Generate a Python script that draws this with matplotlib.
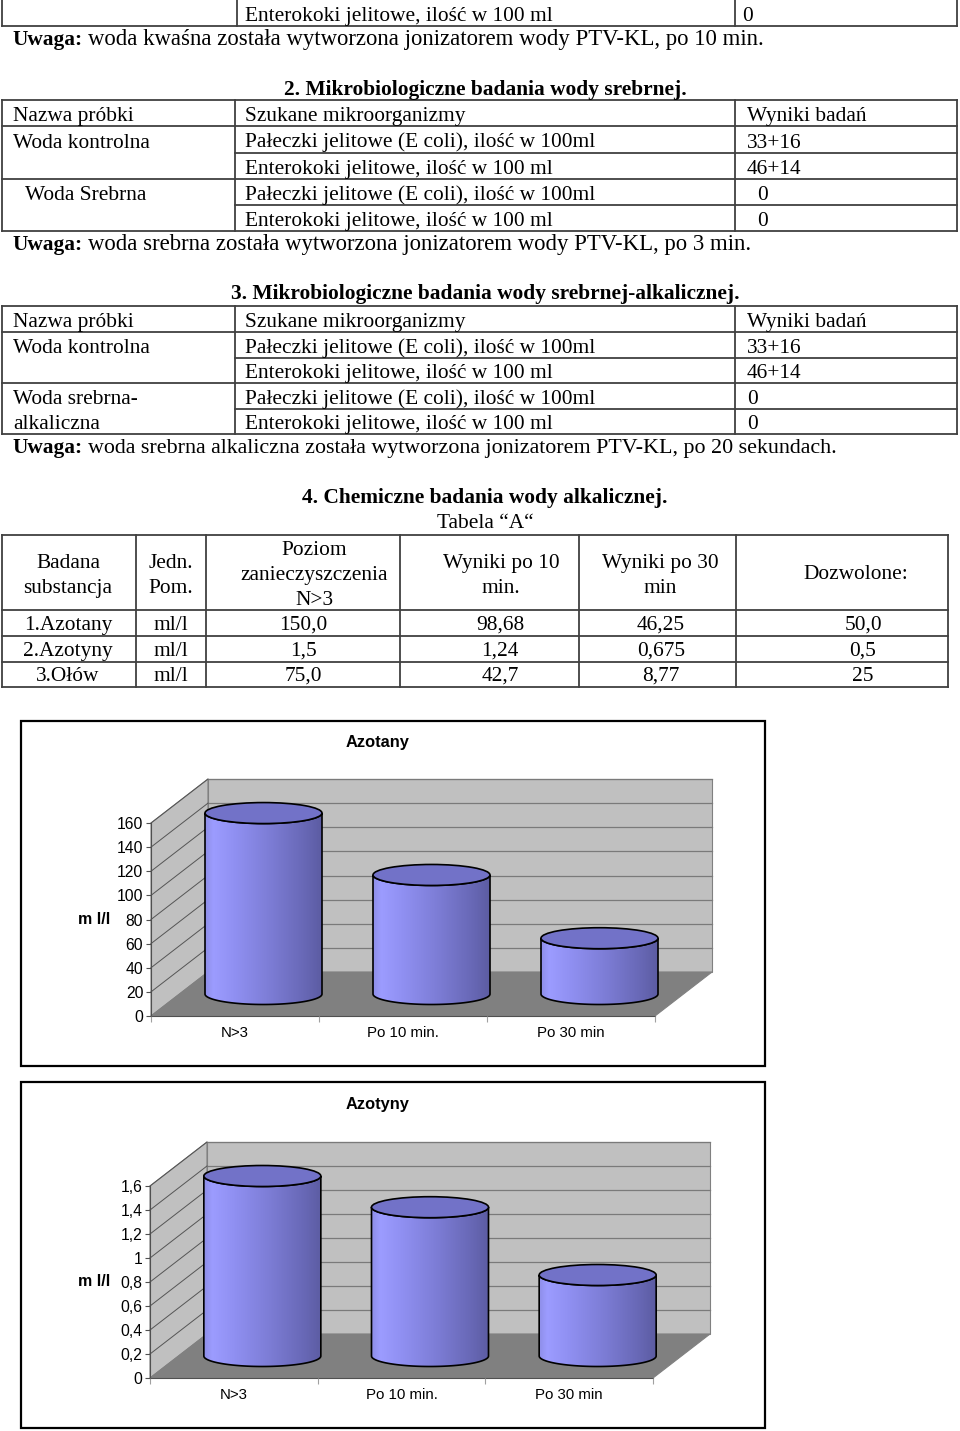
import numpy as np
import matplotlib
matplotlib.use('Agg')
import matplotlib.pyplot as plt
from matplotlib.patches import Polygon, Ellipse, PathPatch, Rectangle
from matplotlib.path import Path
from matplotlib.colors import LinearSegmentedColormap
import matplotlib.transforms as mtransforms

# ---------------- data ----------------
t1_row = ['', 'Enterokoki jelitowe, ilość w 100 ml', '0']
uwaga_texts = ['woda kwaśna została wytworzona jonizatorem wody PTV-KL, po 10 min.',
               'woda srebrna została wytworzona jonizatorem wody PTV-KL, po 3 min.',
               'woda srebrna alkaliczna została wytworzona jonizatorem PTV-KL, po 20 sekundach.']
headings = ['2. Mikrobiologiczne badania wody srebrnej.',
            '3. Mikrobiologiczne badania wody srebrnej-alkalicznej.',
            '4. Chemiczne badania wody alkalicznej.']
micro_header = ['Nazwa próbki', 'Szukane mikroorganizmy', 'Wyniki badań']
t2_samples = ['Woda kontrolna', 'Woda Srebrna']
t3_samples = ['Woda kontrolna', 'Woda srebrna-\nalkaliczna']
organisms = ['Pałeczki jelitowe (E coli), ilość w 100ml', 'Enterokoki jelitowe, ilość w 100 ml']
micro_results = ['33+16', '46+14', '0', '0']

t4_caption = 'Tabela “A“'
t4_header = ['Badana\nsubstancja', 'Jedn.\nPom.', 'Poziom\nzanieczyszczenia\nN>3',
             'Wyniki po 10\nmin.', 'Wyniki po 30\nmin', 'Dozwolone:']
t4_substances = ['1.Azotany', '2.Azotyny', '3.Ołów']
t4_units = ['ml/l', 'ml/l', 'ml/l']
t4_level = ['150,0', '1,5', '75,0']
t4_10min = ['98,68', '1,24', '42,7']
t4_30min = ['46,25', '0,675', '8,77']
t4_allowed = ['50,0', '0,5', '25']

categories = ['N>3', 'Po 10 min.', 'Po 30 min']
azotany = [150.0, 98.68, 46.25]
azotyny = [1.5, 1.24, 0.675]
azotany_ticks = [0, 20, 40, 60, 80, 100, 120, 140, 160]
azotyny_ticks = [0, 0.2, 0.4, 0.6, 0.8, 1.0, 1.2, 1.4, 1.6]

# ---------------- page ----------------
W, H = 960, 1431
fig = plt.figure(figsize=(9.6, 14.31), dpi=100)
page = fig.add_axes([0, 0, 1, 1])
page.set_xlim(0, W)
page.set_ylim(H, 0)
page.axis('off')
pxT = mtransforms.Affine2D().scale(1 / W, -1 / H).translate(0, 1) + fig.transFigure

SERIF = 'Liberation Serif'
SANS = 'Liberation Sans'
FS = 15.4
LC = '#404040'
LW = 1.3


def T(x, y, s, bold=False, ha='left', size=FS):
    return page.text(x, y, s, ha=ha, va='baseline', fontsize=size,
                     fontweight='bold' if bold else 'normal', family=SERIF)


def hline(y, x1, x2):
    page.plot([x1, x2], [y, y], color=LC, lw=LW, solid_capstyle='projecting')


def vline(x, y1, y2):
    page.plot([x, x], [y1, y2], color=LC, lw=LW, solid_capstyle='projecting')


def uwaga(y, rest, size):
    t = T(12, y, 'Uwaga:', bold=True)
    page.annotate(rest, xy=(1, 0), xycoords=t, xytext=(4, 0), textcoords='offset points',
                  ha='left', va='bottom', fontsize=size, family=SERIF)


# table 1 (continued from previous page)
hline(26, 2, 957)
for x in [2, 237, 735, 957]:
    vline(x, 0, 26)
T(245, 21, t1_row[1])
T(742, 21, t1_row[2])
uwaga(45, uwaga_texts[0], 16.4)


def micro_table(rows, samples, sample_x, zero_x, heading, heading_y):
    T(485, heading_y, heading, bold=True, ha='center')
    cols = [2, 235, 735, 957]
    full = [rows[0], rows[1], rows[3], rows[5]]
    part = [rows[2], rows[4]]
    for y in full:
        hline(y, cols[0], cols[-1])
    for y in part:
        hline(y, cols[1], cols[-1])
    for x in cols:
        vline(x, rows[0], rows[-1])
    for j, s in enumerate(micro_header):
        T([13, 245, 747][j], rows[1] - 5, s)
    for k in range(4):
        yb = rows[k + 2] - 5
        T(245, yb, organisms[k % 2])
        T(zero_x if k >= 2 else 747, yb, micro_results[k])
    for k, s in enumerate(samples):
        lines = s.split('\n')
        for m, ln in enumerate(lines):
            T(sample_x[k], rows[2 * k + 2 + m] - 5, ln)


micro_table([100, 126, 152.5, 178.6, 205, 231], t2_samples, [13, 25], 757,
            headings[0], 95)
uwaga(250, uwaga_texts[1], 16.4)
micro_table([306, 332, 358, 383, 409, 434], t3_samples, [13, 13], 747,
            headings[1], 299)
uwaga(453, uwaga_texts[2], 15.8)

# table 4
T(485, 503, headings[2], bold=True, ha='center')
T(485, 528, t4_caption, ha='center')
cols4 = [2, 136, 206, 400, 579, 736, 948]
rows4 = [535, 610, 636, 662, 687]
for y in rows4:
    hline(y, cols4[0], cols4[-1])
for x in cols4:
    vline(x, rows4[0], rows4[-1])
hdr_x = [68, 171, 314, 501, 660, 856]
hdr_y = {1: [579], 2: [568, 593], 3: [555, 580, 605]}
for j, s in enumerate(t4_header):
    lines = s.split('\n')
    for m, ln in enumerate(lines):
        T(hdr_x[j], hdr_y[len(lines)][m], ln, ha='center')
data_x = [68, 171, 303, 500, 661, 863]
for i in range(3):
    yb = rows4[i + 2] - 6
    for j, col in enumerate([t4_substances, t4_units, t4_level, t4_10min, t4_30min, t4_allowed]):
        T(data_x[j], yb, col[i], ha='center')

# ---------------- 3D cylinder charts ----------------
cyl_cmap = LinearSegmentedColormap.from_list('cyl', [
    (0.0, '#8e8ee8'), (0.07, '#9c9cff'), (0.25, '#9090f2'), (0.55, '#7d7dd6'),
    (0.85, '#6868b6'), (1.0, '#5c5ca2')])


def comma(v):
    return ('%g' % round(v, 6)).replace('.', ',')


def chart(box, fx0, fx3, fy0, fytop, ticks, values, title, title_y, ylabel_y):
    l, t, r, b = box
    page.add_patch(Rectangle((l, t), r - l, b - t, fill=False, ec='black', lw=1.6, zorder=1))
    ax = fig.add_axes([l / W, 1 - b / H, (r - l) / W, (b - t) / H])
    ax.patch.set_alpha(0)
    vmax = ticks[-1]
    sx = (fx3 - fx0) / 3.0
    sy = (fy0 - fytop) / vmax
    DX = 57 / sx
    DY = 44 / sy
    # walls and floor
    ax.add_patch(Polygon([(0, 0), (0, vmax), (DX, vmax + DY), (DX, DY)], closed=True,
                         fc='#c0c0c0', ec='#808080', lw=0.8, zorder=0.5))
    ax.add_patch(Polygon([(DX, DY), (3 + DX, DY), (3 + DX, vmax + DY), (DX, vmax + DY)], closed=True,
                         fc='#c0c0c0', ec='#808080', lw=0.8, zorder=0.5))
    ax.add_patch(Polygon([(0, 0), (3, 0), (3 + DX, DY), (DX, DY)], closed=True,
                         fc='#808080', ec='#808080', lw=0.8, zorder=0.6))
    for v in ticks[1:]:
        ax.plot([DX, 3 + DX], [v + DY, v + DY], color='#7a7a7a', lw=0.9, zorder=0.7)
        ax.plot([0, DX], [v, v + DY], color='#555555', lw=0.7, zorder=0.7)
    # cylinders
    a = 58.5 / sx
    bb = 10.5 / sy
    th = np.linspace(np.pi, 2 * np.pi, 80)
    grad = np.linspace(0, 1, 256).reshape(1, -1)
    for i, v in enumerate(values):
        cx = i + 0.5 + DX / 2
        base = DY / 2
        top = v + DY / 2
        verts = [(cx - a, top)]
        verts += [(cx + a * np.cos(tt), base + bb * np.sin(tt)) for tt in th]
        verts += [(cx + a * np.cos(tt), top + bb * np.sin(tt)) for tt in th[::-1]]
        verts.append((cx - a, top))
        codes = [Path.MOVETO] + [Path.LINETO] * (len(verts) - 2) + [Path.CLOSEPOLY]
        path = Path(verts, codes)
        body = PathPatch(path, fc='none', ec='black', lw=1.2, zorder=4)
        ax.add_patch(body)
        im = ax.imshow(grad, cmap=cyl_cmap, extent=(cx - a, cx + a, base - bb, top + bb),
                       aspect='auto', origin='lower', zorder=3, interpolation='bilinear')
        im.set_clip_path(body)
        ax.add_patch(Ellipse((cx, top), 2 * a, 2 * bb, fc='#7272c8', ec='black', lw=1.2, zorder=5))
    ax.set_xlim((l - fx0) / sx, (r - fx0) / sx)
    ax.set_ylim(-(b - fy0) / sy, (fy0 - t) / sy)
    # axes
    for s in ['top', 'right']:
        ax.spines[s].set_visible(False)
    ax.spines['left'].set_position(('data', 0))
    ax.spines['left'].set_bounds(0, vmax)
    ax.spines['bottom'].set_position(('data', 0))
    ax.spines['bottom'].set_bounds(0, 3)
    for s in ['left', 'bottom']:
        ax.spines[s].set_color('#505050')
        ax.spines[s].set_linewidth(0.8)
        ax.spines[s].set_zorder(0.8)
    ax.set_yticks(ticks)
    ax.set_yticklabels([comma(v) for v in ticks], family=SANS, fontsize=11.3)
    ax.tick_params(axis='y', direction='out', length=3.5, width=0.8, pad=2, color='#505050')
    ax.set_xticks([0, 1, 2, 3])
    ax.set_xticklabels([])
    ax.set_xticks([0.5, 1.5, 2.5], minor=True)
    ax.set_xticklabels(categories, minor=True, family=SANS, fontsize=10.8)
    ax.tick_params(axis='x', which='major', direction='out', length=4, width=0.8, color='#a0a0a0')
    ax.tick_params(axis='x', which='minor', length=0, pad=7)
    ax.set_ylabel('m l/l', rotation=0, fontweight='bold', family=SANS, fontsize=11.5,
                  ha='center', va='center')
    ax.yaxis.set_label_coords(94, ylabel_y, transform=pxT)
    fig.text(378, title_y, title, transform=pxT, ha='center', va='center',
             fontsize=11.8, fontweight='bold', family=SANS)
    return ax


chart((21, 721, 765, 1066), 151, 655, 1016, 823, azotany_ticks, azotany, 'Azotany', 743, 920)
chart((21, 1082, 765, 1428), 150, 653, 1378, 1186, azotyny_ticks, azotyny, 'Azotyny', 1104, 1282)

fig.savefig('out.png', dpi=100, facecolor='white')
